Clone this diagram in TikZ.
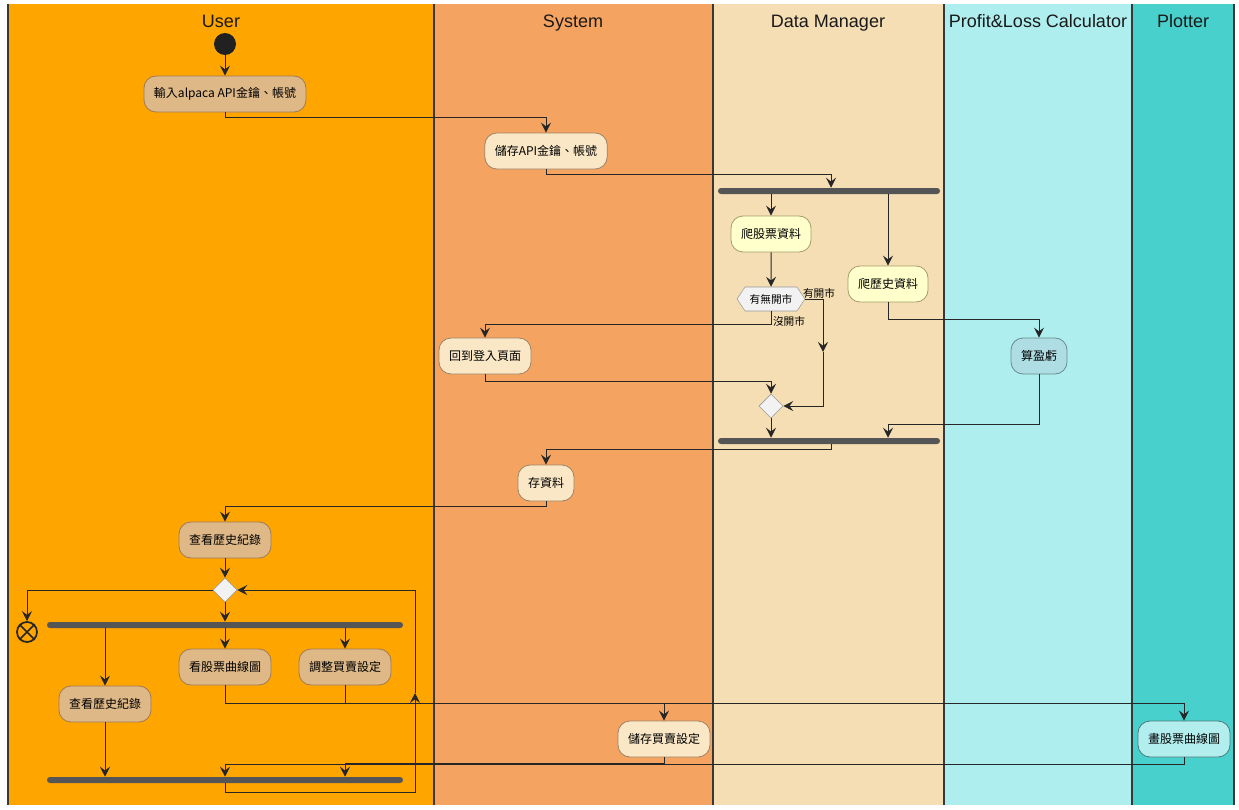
\documentclass[tikz,border=0pt]{standalone}
\usepackage{fontspec}
\setmainfont{Liberation Sans}
\newfontfamily\cjk{Noto Sans CJK TC}
\usetikzlibrary{arrows.meta,shapes.geometric,shapes.symbols,calc}
\definecolor{laneU}{HTML}{FFA500}
\definecolor{laneS}{HTML}{F4A460}
\definecolor{laneD}{HTML}{F5DEB3}
\definecolor{laneP}{HTML}{AFEEEE}
\definecolor{laneT}{HTML}{48D1CC}
\definecolor{boxU}{HTML}{DEB887}
\definecolor{boxS}{HTML}{FAE7C6}
\definecolor{boxD}{HTML}{FFFFCC}
\definecolor{boxP}{HTML}{AEDDE4}
\definecolor{boxT}{HTML}{B2EEEE}
\definecolor{lanel}{HTML}{383838}
\definecolor{linec}{HTML}{262626}
\definecolor{barc}{HTML}{555555}
\tikzset{
  act/.style={rectangle, rounded corners=9pt, font=\cjk\fontsize{9}{11}\selectfont,
    inner xsep=7.5pt, inner ysep=0pt, minimum height=27pt, line width=0.6pt},
  actU/.style={act, fill=boxU, draw=brown!70!black!80},
  actS/.style={act, fill=boxS, draw=brown!60!black!70},
  actD/.style={act, fill=boxD, draw=olive!60!black!60},
  actP/.style={act, fill=boxP, draw=teal!50!black!60},
  actT/.style={act, fill=boxT, draw=teal!50!black!70},
  bar/.style={rectangle, fill=barc, rounded corners=2.2pt, minimum height=4.5pt, inner sep=0pt},
  dia/.style={diamond, fill=gray!10, draw=gray!80, minimum width=18pt, minimum height=18pt, inner sep=0pt},
  hexa/.style={signal, signal to=west and east, signal pointer angle=112, fill=gray!10, draw=gray!80,
    font=\cjk\fontsize{8}{10}\selectfont, minimum width=51pt, minimum height=18pt, inner xsep=1pt, inner ysep=0pt},
  lbl/.style={font=\cjk\fontsize{8}{10}\selectfont, inner sep=0pt},
  ttl/.style={font=\fontsize{13.5}{16}\selectfont, text=black!90, anchor=base, inner sep=0pt},
  line/.style={draw=linec, line width=0.75pt},
  arr/.style={line, -{Stealth[length=7.5pt,width=7.5pt,inset=2.8pt]}},
  lanesep/.style={draw=lanel, line width=1.5pt}
}
\begin{document}
\begin{tikzpicture}[x=0.75pt,y=-0.75pt]
\useasboundingbox (0,0) rectangle (1239,810);
% lanes
\fill[laneU] (8,4) rectangle (434,805);
\fill[laneS] (434,4) rectangle (713,805);
\fill[laneD] (713,4) rectangle (944,805);
\fill[laneP] (944,4) rectangle (1132,805);
\fill[laneT] (1132,4) rectangle (1234,805);
\foreach \x in {8,434,713,944,1132,1234} \draw[lanesep] (\x,4) -- (\x,805);
\node[ttl] (tU) at (221,27) {User};
\node[ttl] (tS) at (573,27) {System};
\node[ttl] (tD) at (828,27) {Data Manager};
\node[ttl] (tP) at (1038,27) {Profit\&Loss Calculator};
\node[ttl] (tT) at (1183,27) {Plotter};

% nodes
\node[circle, fill=black!87, minimum size=16.5pt, inner sep=0pt] (start) at (225,44) {};
\node[actU] (a1) at (225,94) {輸入alpaca API金鑰、帳號};
\node[actS] (a2) at (546,151) {儲存API金鑰、帳號};
\node[bar, minimum width=166.5pt] (fork1) at (829,191) {};
\node[actD] (d1) at (771,234) {爬股票資料};
\node[actD] (d2) at (888,284) {爬歷史資料};
\node[hexa] (hex) at (771,299) {有無開市};
\node[lbl] (lyes) at (819,293) {有開市};
\node[lbl] (lno) at (789,321) {沒開市};
\node[actS] (back) at (485,356) {回到登入頁面};
\node[dia] (m1) at (771,406) {};
\node[actP] (pl) at (1039,356) {算盈虧};
\node[bar, minimum width=166.5pt] (join1) at (829,441) {};
\node[actS] (s1) at (546,483) {存資料};
\node[actU] (u1) at (225,540) {查看歷史紀錄};
\node[dia] (dec) at (225,590) {};
\node[circle, draw=black!85, line width=1.3pt, minimum size=15pt, inner sep=0pt] (endc) at (27,632) {};
\draw[black!85, line width=1.3pt] (endc.45) -- (endc.225) (endc.135) -- (endc.315);
\node[bar, minimum width=267pt] (fork2) at (225,625) {};
\node[actU] (u2) at (105,704) {查看歷史紀錄};
\node[actU] (u3) at (225,667) {看股票曲線圖};
\node[actU] (u4) at (345,667) {調整買賣設定};
\node[actS] (s2) at (664,739) {儲存買賣設定};
\node[actT] (p1) at (1184,739) {畫股票曲線圖};
\node[bar, minimum width=267pt] (join2) at (225,780) {};
\coordinate (yesmid) at (823,352);
\coordinate (loopc) at (415,693);

% connectors
\draw[arr] (start) -- (a1);
\draw[arr] (a1.south) -- ++(0,5) -| (a2.north);
\draw[arr] (a2.south) -- ++(0,5) -| ([xshift=1.5pt]fork1.north);
\draw[arr] (fork1.south -| d1) -- (d1.north);
\draw[arr] (fork1.south -| d2) -- (d2.north);
\draw[arr] (d1) -- (hex);
\draw[arr] (hex.east) -| (yesmid);
\draw[arr] (yesmid) |- (m1.east);
\draw[arr] (hex.south) -- ++(0,13) -| (back.north);
\draw[arr] (back.south) -- ++(0,7) -| (m1.north);
\draw[arr] (m1.south) -- (m1 |- join1.north);
\draw[arr] (d2.south) -- ++(0,17) -| (pl.north);
\draw[arr] (pl.south) -- ++(0,50) -| (d2 |- join1.north);
\draw[arr] ([xshift=1.5pt]join1.south) -- ++(0,5) -| (s1.north);
\draw[arr] (s1.south) -- ++(0,5) -| (u1.north);
\draw[arr] (u1) -- (dec);
\draw[arr] (dec.west) -| (endc.north);
\draw[arr] (dec.south) -- (fork2.north);
\draw[arr] (fork2.south -| u2) -- (u2.north);
\draw[arr] (fork2.south -| u3) -- (u3.north);
\draw[arr] (fork2.south -| u4) -- (u4.north);
\draw[arr] (u3.south) -- ++(0,18) -| (p1.north);
\draw[arr] (u4.south) -- ++(0,18) -| (s2.north);
\draw[arr] (u2.south) -- (u2 |- join2.north);
\draw[arr] (s2.south) -- ++(0,6) -| (u4 |- join2.north);
\draw[arr] (p1.south) -- ++(0,7) -| (u3 |- join2.north);
\draw[arr] (join2.south) -- ++(0,9) -| (loopc);
\draw[arr] (loopc) |- (dec.east);
\end{tikzpicture}
\end{document}
